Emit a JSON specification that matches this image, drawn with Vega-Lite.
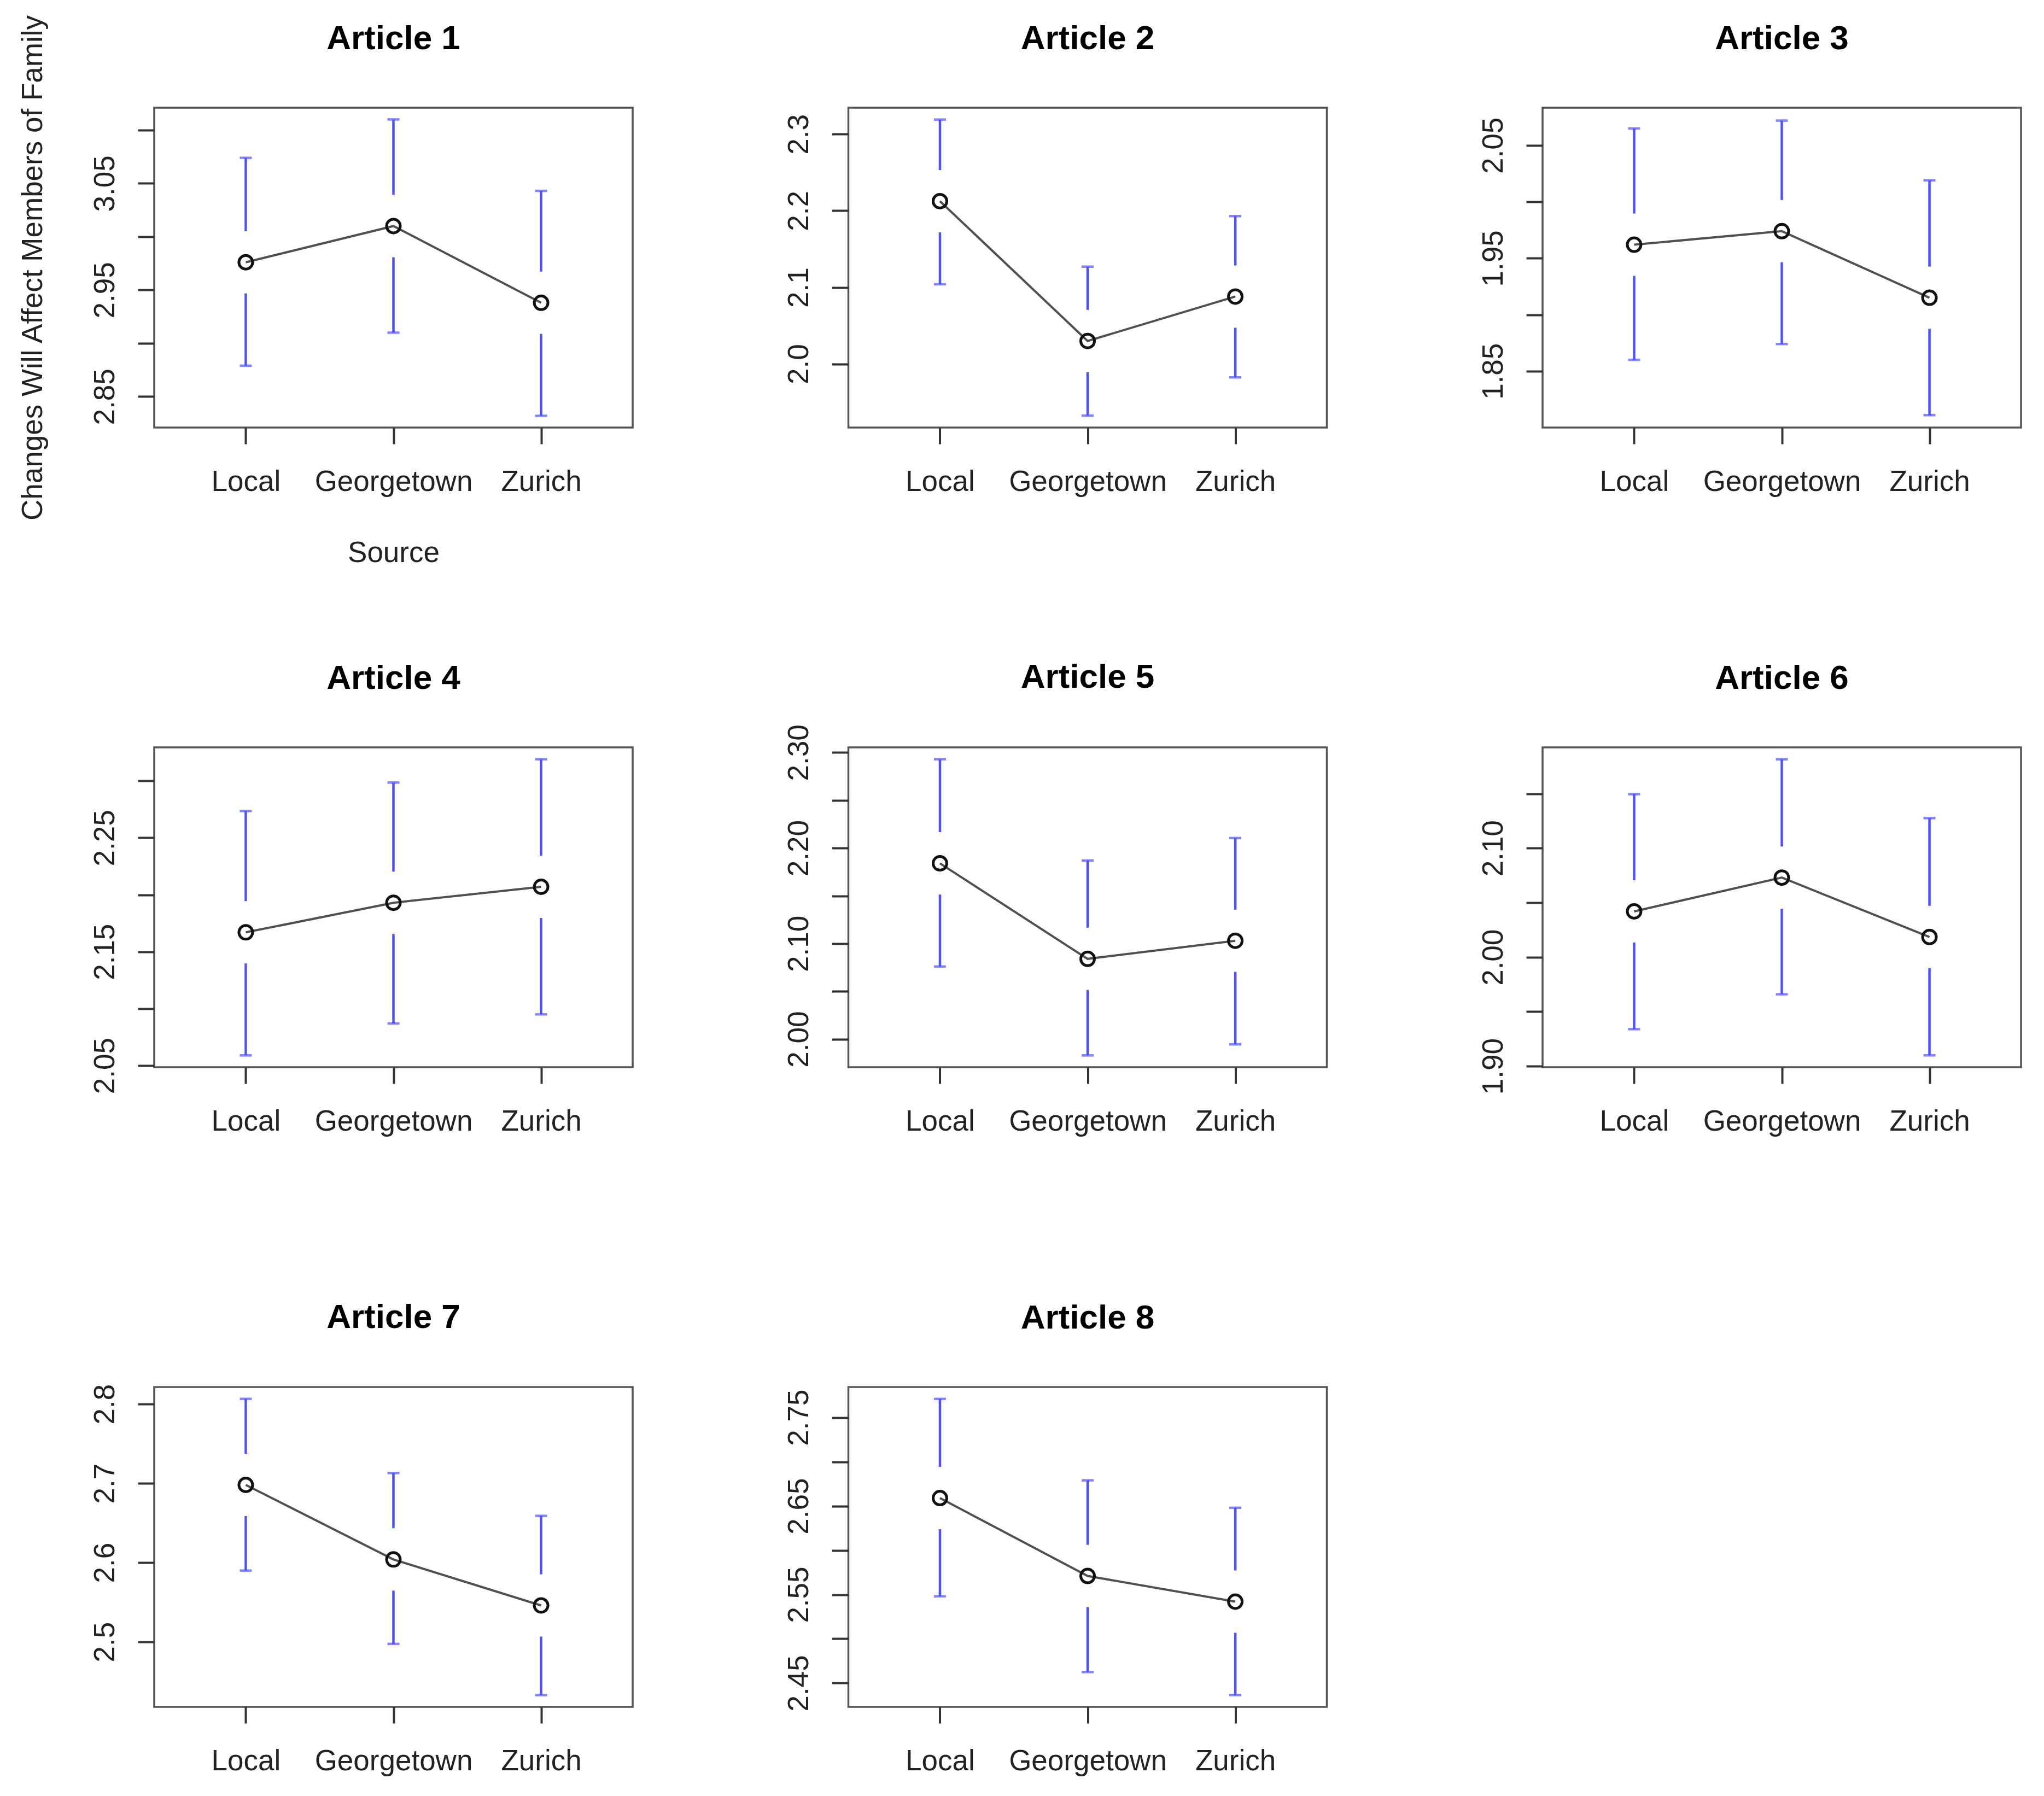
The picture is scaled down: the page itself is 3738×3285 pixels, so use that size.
{
  "$schema": "https://vega.github.io/schema/vega-lite/v6.json",
  "background": "white",
  "padding": {"left": 32, "top": 24, "right": 5, "bottom": 5},
  "datasets": {
    "ci": [
      {"article": "Article 1", "source": "Local", "mean": 2.976, "lo": 2.879, "hi": 3.074},
      {"article": "Article 1", "source": "Georgetown", "mean": 3.010, "lo": 2.910, "hi": 3.110},
      {"article": "Article 1", "source": "Zurich", "mean": 2.938, "lo": 2.832, "hi": 3.043},
      {"article": "Article 2", "source": "Local", "mean": 2.2125, "lo": 2.104, "hi": 2.319},
      {"article": "Article 2", "source": "Georgetown", "mean": 2.030, "lo": 1.9325, "hi": 2.127},
      {"article": "Article 2", "source": "Zurich", "mean": 2.088, "lo": 1.9825, "hi": 2.193},
      {"article": "Article 3", "source": "Local", "mean": 1.962, "lo": 1.860, "hi": 2.065},
      {"article": "Article 3", "source": "Georgetown", "mean": 1.974, "lo": 1.874, "hi": 2.072},
      {"article": "Article 3", "source": "Zurich", "mean": 1.915, "lo": 1.811, "hi": 2.019},
      {"article": "Article 4", "source": "Local", "mean": 2.167, "lo": 2.059, "hi": 2.2735},
      {"article": "Article 4", "source": "Georgetown", "mean": 2.193, "lo": 2.087, "hi": 2.2985},
      {"article": "Article 4", "source": "Zurich", "mean": 2.207, "lo": 2.095, "hi": 2.319},
      {"article": "Article 5", "source": "Local", "mean": 2.184, "lo": 2.076, "hi": 2.293},
      {"article": "Article 5", "source": "Georgetown", "mean": 2.084, "lo": 1.983, "hi": 2.187},
      {"article": "Article 5", "source": "Zurich", "mean": 2.103, "lo": 1.9945, "hi": 2.2105},
      {"article": "Article 6", "source": "Local", "mean": 2.042, "lo": 1.934, "hi": 2.1495},
      {"article": "Article 6", "source": "Georgetown", "mean": 2.073, "lo": 1.966, "hi": 2.1815},
      {"article": "Article 6", "source": "Zurich", "mean": 2.0185, "lo": 1.910, "hi": 2.1275},
      {"article": "Article 7", "source": "Local", "mean": 2.698, "lo": 2.590, "hi": 2.8065},
      {"article": "Article 7", "source": "Georgetown", "mean": 2.604, "lo": 2.4975, "hi": 2.713},
      {"article": "Article 7", "source": "Zurich", "mean": 2.546, "lo": 2.433, "hi": 2.659},
      {"article": "Article 8", "source": "Local", "mean": 2.659, "lo": 2.548, "hi": 2.771},
      {"article": "Article 8", "source": "Georgetown", "mean": 2.571, "lo": 2.4625, "hi": 2.679},
      {"article": "Article 8", "source": "Zurich", "mean": 2.542, "lo": 2.4365, "hi": 2.648}
    ]
  },
  "config": {
    "font": "Liberation Sans",
    "view": {"stroke": "#555555", "strokeWidth": 3.5},
    "axis": {
      "grid": false, "domain": false,
      "labelFont": "Liberation Sans", "labelFontSize": 53, "labelColor": "#222222",
      "tickColor": "#333333", "tickWidth": 4,
      "titleFont": "Liberation Sans", "titleFontSize": 53, "titleFontWeight": "normal", "titleColor": "#222222",
      "labelOverlap": false, "labelBound": false, "labelFlush": false, "labelLimit": 0
    },
    "axisX": {"tickSize": 30, "labelPadding": 85, "labelBaseline": "alphabetic", "labelAngle": 0},
    "axisY": {"tickSize": 30, "labelPadding": 44, "labelAngle": 270, "labelAlign": "center", "labelBaseline": "alphabetic"},
    "title": {"font": "Liberation Sans", "fontSize": 62, "fontWeight": "bold", "color": "#000000", "anchor": "middle", "frame": "group", "baseline": "alphabetic", "offset": 94}
  },
  "columns": 3,
  "bounds": "flush",
  "spacing": {"row": 585, "column": 394.5},
  "concat": [
    {
      "width": 875, "height": 585,
      "title": {"text": "Article 1", "offset": -77},
      "data": {"name": "ci"},
      "transform": [{"filter": "datum.article == 'Article 1'"}],
      "encoding": {"x": {"field": "source", "type": "ordinal", "sort": ["Local", "Georgetown", "Zurich"], "scale": {"type": "point", "padding": 0.62}, "title": "Source", "axis": {"titleY": 245, "titleBaseline": "alphabetic", "titleAlign": "center"}}},
      "layer": [
        {"mark": {"type": "rule", "color": "#5050ff", "strokeWidth": 4.5},
         "encoding": {"y": {"field": "lo", "type": "quantitative", "scale": {"domain": [2.821, 3.121], "nice": false, "zero": false}, "title": "Changes Will Affect Members of Family",
           "axis": {"values": [2.85, 2.9, 2.95, 3.0, 3.05, 3.1], "labelExpr": "round(datum.value*100) % 10 == 5 ? format(datum.value, '.2f') : ''", "titleX": -206, "titleY": 292.5, "titleAngle": 270, "titleBaseline": "alphabetic", "titleAlign": "center"}},
           "y2": {"field": "hi"}}},
        {"mark": {"type": "tick", "color": "#5050ff", "size": 22, "thickness": 4.5}, "encoding": {"y": {"field": "lo", "type": "quantitative", "title": "Changes Will Affect Members of Family"}}},
        {"mark": {"type": "tick", "color": "#5050ff", "size": 22, "thickness": 4.5}, "encoding": {"y": {"field": "hi", "type": "quantitative", "title": "Changes Will Affect Members of Family"}}},
        {"mark": {"type": "point", "shape": "circle", "filled": true, "color": "white", "size": 13000, "opacity": 1}, "encoding": {"y": {"field": "mean", "type": "quantitative", "title": "Changes Will Affect Members of Family"}}},
        {"mark": {"type": "line", "color": "#505050", "strokeWidth": 4}, "encoding": {"y": {"field": "mean", "type": "quantitative", "title": "Changes Will Affect Members of Family"}}},
        {"mark": {"type": "point", "shape": "circle", "filled": false, "color": "#111111", "strokeWidth": 5, "size": 625, "opacity": 1}, "encoding": {"y": {"field": "mean", "type": "quantitative", "title": "Changes Will Affect Members of Family"}}}
      ]
    },
    {
      "width": 875, "height": 585,
      "title": {"text": "Article 2"},
      "data": {"name": "ci"},
      "transform": [{"filter": "datum.article == 'Article 2'"}],
      "encoding": {"x": {"field": "source", "type": "ordinal", "sort": ["Local", "Georgetown", "Zurich"], "scale": {"type": "point", "padding": 0.62}, "title": null}},
      "layer": [
        {"mark": {"type": "rule", "color": "#5050ff", "strokeWidth": 4.5},
         "encoding": {"y": {"field": "lo", "type": "quantitative", "scale": {"domain": [1.917, 2.3345], "nice": false, "zero": false}, "title": null,
           "axis": {"values": [2.0, 2.1, 2.2, 2.3], "format": ".1f"}},
           "y2": {"field": "hi"}}},
        {"mark": {"type": "tick", "color": "#5050ff", "size": 22, "thickness": 4.5}, "encoding": {"y": {"field": "lo", "type": "quantitative", "title": null}}},
        {"mark": {"type": "tick", "color": "#5050ff", "size": 22, "thickness": 4.5}, "encoding": {"y": {"field": "hi", "type": "quantitative", "title": null}}},
        {"mark": {"type": "point", "shape": "circle", "filled": true, "color": "white", "size": 13000, "opacity": 1}, "encoding": {"y": {"field": "mean", "type": "quantitative", "title": null}}},
        {"mark": {"type": "line", "color": "#505050", "strokeWidth": 4}, "encoding": {"y": {"field": "mean", "type": "quantitative", "title": null}}},
        {"mark": {"type": "point", "shape": "circle", "filled": false, "color": "#111111", "strokeWidth": 5, "size": 625, "opacity": 1}, "encoding": {"y": {"field": "mean", "type": "quantitative", "title": null}}}
      ]
    },
    {
      "width": 875, "height": 585,
      "title": {"text": "Article 3"},
      "data": {"name": "ci"},
      "transform": [{"filter": "datum.article == 'Article 3'"}],
      "encoding": {"x": {"field": "source", "type": "ordinal", "sort": ["Local", "Georgetown", "Zurich"], "scale": {"type": "point", "padding": 0.62}, "title": null}},
      "layer": [
        {"mark": {"type": "rule", "color": "#5050ff", "strokeWidth": 4.5},
         "encoding": {"y": {"field": "lo", "type": "quantitative", "scale": {"domain": [1.8, 2.0834], "nice": false, "zero": false}, "title": null,
           "axis": {"values": [1.85, 1.9, 1.95, 2.0, 2.05], "labelExpr": "round(datum.value*100) % 10 == 5 ? format(datum.value, '.2f') : ''"}},
           "y2": {"field": "hi"}}},
        {"mark": {"type": "tick", "color": "#5050ff", "size": 22, "thickness": 4.5}, "encoding": {"y": {"field": "lo", "type": "quantitative", "title": null}}},
        {"mark": {"type": "tick", "color": "#5050ff", "size": 22, "thickness": 4.5}, "encoding": {"y": {"field": "hi", "type": "quantitative", "title": null}}},
        {"mark": {"type": "point", "shape": "circle", "filled": true, "color": "white", "size": 13000, "opacity": 1}, "encoding": {"y": {"field": "mean", "type": "quantitative", "title": null}}},
        {"mark": {"type": "line", "color": "#505050", "strokeWidth": 4}, "encoding": {"y": {"field": "mean", "type": "quantitative", "title": null}}},
        {"mark": {"type": "point", "shape": "circle", "filled": false, "color": "#111111", "strokeWidth": 5, "size": 625, "opacity": 1}, "encoding": {"y": {"field": "mean", "type": "quantitative", "title": null}}}
      ]
    },
    {
      "width": 875, "height": 585,
      "title": {"text": "Article 4"},
      "data": {"name": "ci"},
      "transform": [{"filter": "datum.article == 'Article 4'"}],
      "encoding": {"x": {"field": "source", "type": "ordinal", "sort": ["Local", "Georgetown", "Zurich"], "scale": {"type": "point", "padding": 0.62}, "title": null}},
      "layer": [
        {"mark": {"type": "rule", "color": "#5050ff", "strokeWidth": 4.5},
         "encoding": {"y": {"field": "lo", "type": "quantitative", "scale": {"domain": [2.0486, 2.3294], "nice": false, "zero": false}, "title": null,
           "axis": {"values": [2.05, 2.1, 2.15, 2.2, 2.25, 2.3], "labelExpr": "round(datum.value*100) % 10 == 5 ? format(datum.value, '.2f') : ''"}},
           "y2": {"field": "hi"}}},
        {"mark": {"type": "tick", "color": "#5050ff", "size": 22, "thickness": 4.5}, "encoding": {"y": {"field": "lo", "type": "quantitative", "title": null}}},
        {"mark": {"type": "tick", "color": "#5050ff", "size": 22, "thickness": 4.5}, "encoding": {"y": {"field": "hi", "type": "quantitative", "title": null}}},
        {"mark": {"type": "point", "shape": "circle", "filled": true, "color": "white", "size": 13000, "opacity": 1}, "encoding": {"y": {"field": "mean", "type": "quantitative", "title": null}}},
        {"mark": {"type": "line", "color": "#505050", "strokeWidth": 4}, "encoding": {"y": {"field": "mean", "type": "quantitative", "title": null}}},
        {"mark": {"type": "point", "shape": "circle", "filled": false, "color": "#111111", "strokeWidth": 5, "size": 625, "opacity": 1}, "encoding": {"y": {"field": "mean", "type": "quantitative", "title": null}}}
      ]
    },
    {
      "width": 875, "height": 585,
      "title": {"text": "Article 5", "offset": 54},
      "data": {"name": "ci"},
      "transform": [{"filter": "datum.article == 'Article 5'"}],
      "encoding": {"x": {"field": "source", "type": "ordinal", "sort": ["Local", "Georgetown", "Zurich"], "scale": {"type": "point", "padding": 0.62}, "title": null}},
      "layer": [
        {"mark": {"type": "rule", "color": "#5050ff", "strokeWidth": 4.5},
         "encoding": {"y": {"field": "lo", "type": "quantitative", "scale": {"domain": [1.9706, 2.3054], "nice": false, "zero": false}, "title": null,
           "axis": {"values": [2.0, 2.05, 2.1, 2.15, 2.2, 2.25, 2.3], "labelExpr": "round(datum.value*100) % 10 == 0 ? format(datum.value, '.2f') : ''"}},
           "y2": {"field": "hi"}}},
        {"mark": {"type": "tick", "color": "#5050ff", "size": 22, "thickness": 4.5}, "encoding": {"y": {"field": "lo", "type": "quantitative", "title": null}}},
        {"mark": {"type": "tick", "color": "#5050ff", "size": 22, "thickness": 4.5}, "encoding": {"y": {"field": "hi", "type": "quantitative", "title": null}}},
        {"mark": {"type": "point", "shape": "circle", "filled": true, "color": "white", "size": 13000, "opacity": 1}, "encoding": {"y": {"field": "mean", "type": "quantitative", "title": null}}},
        {"mark": {"type": "line", "color": "#505050", "strokeWidth": 4}, "encoding": {"y": {"field": "mean", "type": "quantitative", "title": null}}},
        {"mark": {"type": "point", "shape": "circle", "filled": false, "color": "#111111", "strokeWidth": 5, "size": 625, "opacity": 1}, "encoding": {"y": {"field": "mean", "type": "quantitative", "title": null}}}
      ]
    },
    {
      "width": 875, "height": 585,
      "title": {"text": "Article 6"},
      "data": {"name": "ci"},
      "transform": [{"filter": "datum.article == 'Article 6'"}],
      "encoding": {"x": {"field": "source", "type": "ordinal", "sort": ["Local", "Georgetown", "Zurich"], "scale": {"type": "point", "padding": 0.62}, "title": null}},
      "layer": [
        {"mark": {"type": "rule", "color": "#5050ff", "strokeWidth": 4.5},
         "encoding": {"y": {"field": "lo", "type": "quantitative", "scale": {"domain": [1.8991, 2.1924], "nice": false, "zero": false}, "title": null,
           "axis": {"values": [1.9, 1.95, 2.0, 2.05, 2.1, 2.15], "labelExpr": "round(datum.value*100) % 10 == 0 ? format(datum.value, '.2f') : ''"}},
           "y2": {"field": "hi"}}},
        {"mark": {"type": "tick", "color": "#5050ff", "size": 22, "thickness": 4.5}, "encoding": {"y": {"field": "lo", "type": "quantitative", "title": null}}},
        {"mark": {"type": "tick", "color": "#5050ff", "size": 22, "thickness": 4.5}, "encoding": {"y": {"field": "hi", "type": "quantitative", "title": null}}},
        {"mark": {"type": "point", "shape": "circle", "filled": true, "color": "white", "size": 13000, "opacity": 1}, "encoding": {"y": {"field": "mean", "type": "quantitative", "title": null}}},
        {"mark": {"type": "line", "color": "#505050", "strokeWidth": 4}, "encoding": {"y": {"field": "mean", "type": "quantitative", "title": null}}},
        {"mark": {"type": "point", "shape": "circle", "filled": false, "color": "#111111", "strokeWidth": 5, "size": 625, "opacity": 1}, "encoding": {"y": {"field": "mean", "type": "quantitative", "title": null}}}
      ]
    },
    {
      "width": 875, "height": 585,
      "title": {"text": "Article 7", "offset": 89},
      "data": {"name": "ci"},
      "transform": [{"filter": "datum.article == 'Article 7'"}],
      "encoding": {"x": {"field": "source", "type": "ordinal", "sort": ["Local", "Georgetown", "Zurich"], "scale": {"type": "point", "padding": 0.62}, "title": null}},
      "layer": [
        {"mark": {"type": "rule", "color": "#5050ff", "strokeWidth": 4.5},
         "encoding": {"y": {"field": "lo", "type": "quantitative", "scale": {"domain": [2.4181, 2.8214], "nice": false, "zero": false}, "title": null,
           "axis": {"values": [2.5, 2.6, 2.7, 2.8], "format": ".1f"}},
           "y2": {"field": "hi"}}},
        {"mark": {"type": "tick", "color": "#5050ff", "size": 22, "thickness": 4.5}, "encoding": {"y": {"field": "lo", "type": "quantitative", "title": null}}},
        {"mark": {"type": "tick", "color": "#5050ff", "size": 22, "thickness": 4.5}, "encoding": {"y": {"field": "hi", "type": "quantitative", "title": null}}},
        {"mark": {"type": "point", "shape": "circle", "filled": true, "color": "white", "size": 13000, "opacity": 1}, "encoding": {"y": {"field": "mean", "type": "quantitative", "title": null}}},
        {"mark": {"type": "line", "color": "#505050", "strokeWidth": 4}, "encoding": {"y": {"field": "mean", "type": "quantitative", "title": null}}},
        {"mark": {"type": "point", "shape": "circle", "filled": false, "color": "#111111", "strokeWidth": 5, "size": 625, "opacity": 1}, "encoding": {"y": {"field": "mean", "type": "quantitative", "title": null}}}
      ]
    },
    {
      "width": 875, "height": 585,
      "title": {"text": "Article 8"},
      "data": {"name": "ci"},
      "transform": [{"filter": "datum.article == 'Article 8'"}],
      "encoding": {"x": {"field": "source", "type": "ordinal", "sort": ["Local", "Georgetown", "Zurich"], "scale": {"type": "point", "padding": 0.62}, "title": null}},
      "layer": [
        {"mark": {"type": "rule", "color": "#5050ff", "strokeWidth": 4.5},
         "encoding": {"y": {"field": "lo", "type": "quantitative", "scale": {"domain": [2.4231, 2.7844], "nice": false, "zero": false}, "title": null,
           "axis": {"values": [2.45, 2.5, 2.55, 2.6, 2.65, 2.7, 2.75], "labelExpr": "round(datum.value*100) % 10 == 5 ? format(datum.value, '.2f') : ''"}},
           "y2": {"field": "hi"}}},
        {"mark": {"type": "tick", "color": "#5050ff", "size": 22, "thickness": 4.5}, "encoding": {"y": {"field": "lo", "type": "quantitative", "title": null}}},
        {"mark": {"type": "tick", "color": "#5050ff", "size": 22, "thickness": 4.5}, "encoding": {"y": {"field": "hi", "type": "quantitative", "title": null}}},
        {"mark": {"type": "point", "shape": "circle", "filled": true, "color": "white", "size": 13000, "opacity": 1}, "encoding": {"y": {"field": "mean", "type": "quantitative", "title": null}}},
        {"mark": {"type": "line", "color": "#505050", "strokeWidth": 4}, "encoding": {"y": {"field": "mean", "type": "quantitative", "title": null}}},
        {"mark": {"type": "point", "shape": "circle", "filled": false, "color": "#111111", "strokeWidth": 5, "size": 625, "opacity": 1}, "encoding": {"y": {"field": "mean", "type": "quantitative", "title": null}}}
      ]
    }
  ]
}
